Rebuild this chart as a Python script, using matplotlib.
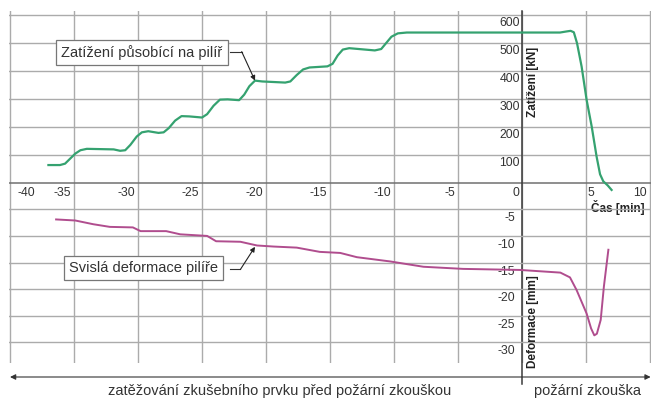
import matplotlib.pyplot as plt
import matplotlib.transforms as mtransforms

plt.rcParams['font.family'] = ['Liberation Sans', 'DejaVu Sans']

# Load acting on the pier [kN] over time [min]
load_t = [-37.0, -36.1, -35.7, -35.3, -34.9, -34.5, -34.0, -31.9, -31.4, -31.0, -30.6,
          -30.1, -29.7, -29.2, -28.4, -28.0, -27.6, -27.1, -26.6, -26.0, -25.0, -24.6,
          -24.1, -23.6, -23.0, -22.1, -21.7, -21.3, -20.86, -20.3, -18.5, -18.1, -17.6,
          -17.1, -16.6, -15.2, -14.8, -14.4, -14.0, -13.5, -11.5, -11.0, -10.6, -10.2,
          -9.7, -9.0, 2.97, 3.5, 3.8, 4.05, 4.3, 4.66, 5.05, 5.45, 5.83, 6.1, 6.35, 6.7, 7.0]
load_kn = [63, 63, 68, 86, 104, 116, 121, 119, 114, 116, 135,
           165, 180, 184, 178, 180, 195, 222, 238, 237, 233, 245,
           275, 297, 298, 295, 315, 345, 365, 362, 358, 362, 385,
           405, 412, 416, 425, 455, 476, 481, 473, 478, 500, 522,
           534, 537, 537, 541, 543, 538, 499, 415, 296, 200, 93, 30, 5, -10, -26]

# Vertical deformation of the pier [mm]
defo_t = [-36.4, -34.9, -33.5, -32.2, -30.4, -29.8, -27.8, -26.7, -24.6, -23.9, -22.0,
          -20.7, -19.4, -17.6, -15.8, -14.2, -12.9, -10.3, -7.7, -4.6, -0.15, 3.0, 3.75,
          4.27, 5.05, 5.4, 5.65, 5.85, 6.15, 6.4, 6.75]
defo_mm = [-6.9, -7.1, -7.8, -8.3, -8.4, -9.1, -9.1, -9.7, -10.0, -11.0, -11.1,
           -11.8, -12.0, -12.2, -13.0, -13.2, -14.0, -14.8, -15.8, -16.2, -16.4, -16.9, -17.8,
           -20.2, -24.6, -27.4, -28.7, -28.4, -25.8, -19.5, -12.6]

time_ticks = [-40, -35, -30, -25, -20, -15, -10, -5, 0, 5, 10]
load_ticks = [100, 200, 300, 400, 500, 600]
defo_ticks = [-5, -10, -15, -20, -25, -30]

green = '#35a270'
pink = '#b04d8e'
grid_c = '#ababab'

fig = plt.figure(figsize=(6.51, 3.99), dpi=100)
ax = fig.add_axes([9 / 651, 36 / 399, 642 / 651, 352 / 399])
ax2 = ax.twinx()

ax.set_xlim(-40.08, 10.08)
ax.set_ylim(-645, 614)
ax2.set_ylim(-33.9, 32.3)

for a in (ax, ax2):
    for s in a.spines.values():
        s.set_visible(False)
    a.tick_params(length=0, labelleft=False, labelright=False, labelbottom=False)

ax.set_xticks(time_ticks)
ax.set_yticks(load_ticks)
ax2.set_yticks(defo_ticks)
ax.grid(True, color=grid_c, lw=1)
ax2.grid(True, axis='y', color=grid_c, lw=1)
ax.axhline(0, color='#707070', lw=1.1)
ax.plot([0, 0], [614, -720], color='#3a3a3a', lw=1.1, clip_on=False)

ax.plot(load_t, load_kn, color=green, lw=1.6, zorder=5)
ax2.plot(defo_t, defo_mm, color=pink, lw=1.4, zorder=5)

# tick labels sit slightly off their grid lines
for t in time_ticks:
    if t == -40:
        ha, dx = 'left', 7
    elif t == 5:
        ha, dx = 'left', 2
    else:
        ha, dx = 'right', -3
    tr = mtransforms.offset_copy(ax.transData, fig=fig, x=dx, y=-10, units='dots')
    ax.text(t, 0, str(t), transform=tr, ha=ha, va='center', fontsize=8.8, color='#333333')

for v in load_ticks:
    tr = mtransforms.offset_copy(ax.transData, fig=fig, x=-2, y=-8.5, units='dots')
    ax.text(0, v, str(v), transform=tr, ha='right', va='center', fontsize=8.8, color='#333333')

for v in defo_ticks:
    tr = mtransforms.offset_copy(ax2.transData, fig=fig, x=-7, y=-9, units='dots')
    ax2.text(0, v, str(v), transform=tr, ha='right', va='center', fontsize=8.8, color='#333333')

ax.text(0.86, 360, 'Zatížení [kN]', rotation=90, ha='center', va='center',
        fontsize=8.5, fontweight='bold', color='#222222')
ax2.text(0.86, -26.2, 'Deformace [mm]', rotation=90, ha='center', va='center',
         fontsize=8.5, fontweight='bold', color='#222222')
ax.text(9.6, -90, 'Čas [min]', ha='right', va='center',
        fontsize=8.5, fontweight='bold', color='#222222')

# callout boxes
box = dict(boxstyle='square,pad=0.35', fc='white', ec='#777777', lw=0.9)
ax.text(-29.7, 466, 'Zatížení působící na pilíř', ha='center', va='center',
        fontsize=10.5, color='#333333', bbox=box, zorder=6)
ax.plot([-22.8, -21.9], [468.7, 468.7], color='#333333', lw=0.8, zorder=6)
ax.annotate('', xy=(-20.86, 365), xytext=(-21.9, 468.7),
            arrowprops=dict(arrowstyle='-|>', color='#222222', lw=0.8,
                            mutation_scale=7, shrinkA=0, shrinkB=0), zorder=6)

ax2.text(-29.6, -16.0, 'Svislá deformace pilíře', ha='center', va='center',
         fontsize=10.5, color='#333333', bbox=box, zorder=6)
ax2.plot([-22.8, -22.0], [-16.3, -16.3], color='#333333', lw=0.8, zorder=6)
ax2.annotate('', xy=(-20.86, -12.05), xytext=(-22.0, -16.3),
             arrowprops=dict(arrowstyle='-|>', color='#222222', lw=0.8,
                             mutation_scale=7, shrinkA=0, shrinkB=0), zorder=6)

# phase arrow and captions below the chart
bt = mtransforms.blended_transform_factory(ax.transData, fig.transFigure)
ax.annotate('', xy=(10.05, 1 - 377 / 399), xytext=(-40.0, 1 - 377 / 399),
            xycoords=bt, textcoords=bt, annotation_clip=False,
            arrowprops=dict(arrowstyle='<|-|>', color='#333333', lw=0.8,
                            mutation_scale=8, shrinkA=0, shrinkB=0))
ax.text(-18.9, 1 - 391 / 399, 'zatěžování zkušebního prvku před požární zkouškou',
        transform=bt, ha='center', va='center', fontsize=10.5, color='#333333')
ax.text(5.1, 1 - 391 / 399, 'požární zkouška', transform=bt, ha='center', va='center',
        fontsize=10.5, color='#333333')

fig.savefig('out.png', dpi=100)
